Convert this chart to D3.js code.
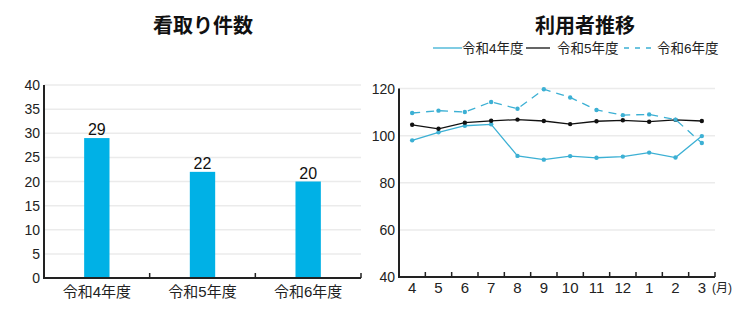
<!DOCTYPE html>
<html>
<head>
<meta charset="utf-8">
<script src="https://cdn.jsdelivr.net/npm/d3@7"></script>
<style>
  html, body { margin: 0; padding: 0; background: #fff; }
  svg { display: block; font-family: "Liberation Sans", "Noto Sans CJK JP", sans-serif; }
</style>
</head>
<body>
<svg id="chart" width="750" height="325"></svg>
<script>
// 看取り件数（年度別）
const years = ["令和4年度", "令和5年度", "令和6年度"];
const mitoriCounts = [29, 22, 20];
const leftTicks = [0, 5, 10, 15, 20, 25, 30, 35, 40];

// 利用者推移（月別）
const months = ["4", "5", "6", "7", "8", "9", "10", "11", "12", "1", "2", "3"];
const usersR4 = [98.0, 101.4, 104.2, 104.8, 91.4, 89.8, 91.3, 90.6, 91.1, 92.8, 90.7, 99.8];
const usersR5 = [104.6, 102.9, 105.5, 106.3, 106.8, 106.2, 104.9, 106.1, 106.5, 105.9, 106.7, 106.2];
const usersR6 = [109.6, 110.6, 110.0, 114.3, 111.4, 119.7, 116.2, 110.9, 108.7, 109.0, 106.8, 96.9];
const rightTicks = [40, 60, 80, 100, 120];

const svg = d3.select("#chart");
const BLUE = "#00b1e6";
const LINE_BLUE = "#3cb0d4";
const AXIS = "#222";
const GRID = "#ebebeb";

// ---------- 左：棒グラフ ----------
const L = { x0: 44, x1: 361, y0: 278, y1: 85 };
const xL = d3.scaleBand().domain(years).range([L.x0, L.x1]).paddingInner(0.76).paddingOuter(0.38);
const yL = d3.scaleLinear().domain([0, 40]).range([L.y0, L.y1]);

svg.append("text")
  .attr("x", 203).attr("y", 33)
  .attr("text-anchor", "middle")
  .attr("font-size", 20).attr("font-weight", "bold").attr("fill", "#111")
  .text("看取り件数");

const gL = svg.append("g");
gL.selectAll("line.grid").data(leftTicks.filter(d => d > 0)).join("line")
  .attr("x1", L.x0).attr("x2", L.x1)
  .attr("y1", d => yL(d)).attr("y2", d => yL(d))
  .attr("stroke", GRID).attr("stroke-width", 1.5);

gL.selectAll("text.tick").data(leftTicks).join("text")
  .attr("x", 40).attr("y", d => yL(d) + 5)
  .attr("text-anchor", "end")
  .attr("font-size", 14).attr("fill", "#222")
  .text(d => d);

gL.selectAll("rect").data(mitoriCounts).join("rect")
  .attr("x", (d, i) => xL(years[i]))
  .attr("width", xL.bandwidth())
  .attr("y", d => yL(d))
  .attr("height", d => yL(0) - yL(d))
  .attr("fill", BLUE);

gL.selectAll("text.val").data(mitoriCounts).join("text")
  .attr("x", (d, i) => xL(years[i]) + xL.bandwidth() / 2)
  .attr("y", d => yL(d) - 3)
  .attr("text-anchor", "middle")
  .attr("font-size", 16).attr("fill", "#111")
  .text(d => d);

// 軸
gL.append("line").attr("x1", L.x0).attr("x2", L.x0).attr("y1", L.y1).attr("y2", L.y0)
  .attr("stroke", AXIS).attr("stroke-width", 2);
gL.append("line").attr("x1", L.x0 - 1).attr("x2", L.x1).attr("y1", L.y0).attr("y2", L.y0)
  .attr("stroke", AXIS).attr("stroke-width", 2);
const stepL = xL.step();
const leftBounds = years.map((d, i) => L.x0 + stepL * (i + 1));
gL.selectAll("line.tk").data(leftBounds).join("line")
  .attr("x1", d => d).attr("x2", d => d)
  .attr("y1", L.y0).attr("y2", L.y0 - 5)
  .attr("stroke", AXIS).attr("stroke-width", 1.5);

gL.selectAll("text.cat").data(years).join("text")
  .attr("x", d => xL(d) + xL.bandwidth() / 2)
  .attr("y", 297)
  .attr("text-anchor", "middle")
  .attr("font-size", 15).attr("fill", "#222")
  .text(d => d);

// ---------- 右：折れ線グラフ ----------
const R = { x0: 399, x1: 715, y0: 277, y1: 88.5 };
const xR = d3.scaleBand().domain(months).range([R.x0, R.x1]);
const yR = d3.scaleLinear().domain([40, 120]).range([R.y0, R.y1]);
const cx = m => xR(m) + xR.bandwidth() / 2;

svg.append("text")
  .attr("x", 585).attr("y", 33)
  .attr("text-anchor", "middle")
  .attr("font-size", 20).attr("font-weight", "bold").attr("fill", "#111")
  .text("利用者推移");

const gR = svg.append("g");
gR.selectAll("line.grid").data(rightTicks.filter(d => d > 40)).join("line")
  .attr("x1", R.x0).attr("x2", R.x1)
  .attr("y1", d => yR(d)).attr("y2", d => yR(d))
  .attr("stroke", GRID).attr("stroke-width", 1.5);

gR.selectAll("text.tick").data(rightTicks).join("text")
  .attr("x", 395).attr("y", d => yR(d) + 5)
  .attr("text-anchor", "end")
  .attr("font-size", 14).attr("fill", "#222")
  .text(d => d);

const series = [
  { name: "令和4年度", values: usersR4, color: LINE_BLUE, dash: null, width: 1.3 },
  { name: "令和5年度", values: usersR5, color: "#111", dash: null, width: 1.3 },
  { name: "令和6年度", values: usersR6, color: LINE_BLUE, dash: "8,6", width: 1.3 }
];
const line = d3.line().x((d, i) => cx(months[i])).y(d => yR(d));

series.forEach(s => {
  gR.append("path").datum(s.values)
    .attr("d", line)
    .attr("fill", "none")
    .attr("stroke", s.color)
    .attr("stroke-width", s.width)
    .attr("stroke-dasharray", s.dash);
  gR.selectAll(null).data(s.values).join("circle")
    .attr("cx", (d, i) => cx(months[i]))
    .attr("cy", d => yR(d))
    .attr("r", 2.2)
    .attr("fill", s.color);
});

// 軸
gR.append("line").attr("x1", R.x0).attr("x2", R.x0).attr("y1", R.y1).attr("y2", R.y0)
  .attr("stroke", AXIS).attr("stroke-width", 2);
gR.append("line").attr("x1", R.x0 - 1).attr("x2", R.x1).attr("y1", R.y0).attr("y2", R.y0)
  .attr("stroke", AXIS).attr("stroke-width", 2);
const rightBounds = months.map((d, i) => R.x0 + xR.step() * (i + 1));
gR.selectAll("line.tk").data(rightBounds).join("line")
  .attr("x1", d => d).attr("x2", d => d)
  .attr("y1", R.y0).attr("y2", R.y0 - 5)
  .attr("stroke", AXIS).attr("stroke-width", 1.5);

gR.selectAll("text.cat").data(months).join("text")
  .attr("x", d => cx(d))
  .attr("y", 293)
  .attr("text-anchor", "middle")
  .attr("font-size", 15).attr("fill", "#222")
  .text(d => d);
gR.append("text")
  .attr("x", 712).attr("y", 292)
  .attr("font-size", 12).attr("fill", "#222")
  .text("(月)");

// 凡例
const legend = [
  { s: series[0], lx: 433, lw: 29, tx: 462 },
  { s: series[1], lx: 526, lw: 24, tx: 557 },
  { s: series[2], lx: 624, lw: 30, tx: 657 }
];
legend.forEach(l => {
  svg.append("line")
    .attr("x1", l.lx).attr("x2", l.lx + l.lw)
    .attr("y1", 48).attr("y2", 48)
    .attr("stroke", l.s.color).attr("stroke-width", 1.3)
    .attr("stroke-dasharray", l.s.dash ? "5,6" : null);
  svg.append("text")
    .attr("x", l.tx).attr("y", 53)
    .attr("font-size", 13.5).attr("fill", "#222")
    .text(l.s.name);
});
</script>
</body>
</html>
